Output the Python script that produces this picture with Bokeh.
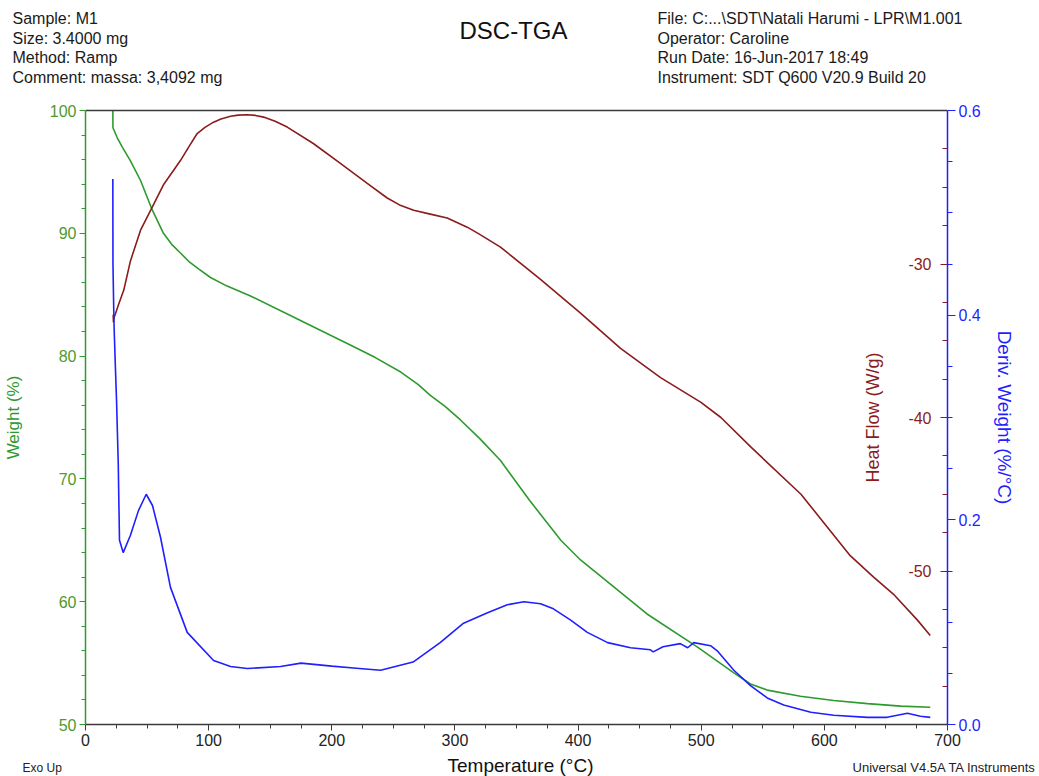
from bokeh.plotting import figure
from bokeh.layouts import column
from bokeh.models import Range1d, LinearAxis, FixedTicker, PrintfTickFormatter
from bokeh.core.properties import value
from bokeh.embed import file_html
from bokeh.resources import INLINE

# ---------------- data ----------------
x_ticks = [0, 100, 200, 300, 400, 500, 600, 700]
x_minor = [25, 50, 75, 125, 150, 175, 225, 250, 275, 325, 350, 375, 425, 450, 475,
           525, 550, 575, 625, 650, 675]
w_ticks = [50, 60, 70, 80, 90, 100]
w_minor = [52, 54, 56, 58, 62, 64, 66, 68, 72, 74, 76, 78, 82, 84, 86, 88, 92, 94, 96, 98]
hf_ticks = [-30, -40, -50]
hf_minor = [-22.5, -25, -27.5, -32.5, -35, -37.5, -42.5, -45, -47.5, -52.5, -55, -57.5]
dw_ticks = [0.0, 0.2, 0.4, 0.6]
dw_minor = [0.05, 0.1, 0.15, 0.25, 0.3, 0.35, 0.45, 0.5, 0.55]

weight_T = [22.2, 22.3, 25.7, 30, 36.5, 44.7, 54.2, 63.3, 70, 77.1, 84, 91.8, 101.5, 115,
            134, 174.6, 215, 235, 256, 270, 280, 292, 304.5, 320, 337, 361, 386, 402, 418,
            456, 497, 526.5, 540, 553.6, 580.6, 607.6, 635, 662, 686]
weight_pct = [100, 98.6, 97.8, 97.0, 95.9, 94.3, 91.9, 90.0, 89.1, 88.4, 87.7, 87.1, 86.4,
              85.7, 84.9, 82.9, 80.9, 79.9, 78.7, 77.7, 76.8, 75.9, 74.8, 73.3, 71.5, 68.2,
              65.0, 63.4, 62.1, 59.0, 56.3, 54.2, 53.3, 52.8, 52.3, 51.95, 51.7, 51.5, 51.4]

hf_T = [22.5, 22.7, 23, 27, 31.1, 36.5, 44.7, 54.2, 63.6, 77.1, 84, 90.7, 97, 104, 110,
        117.8, 124, 131.3, 138, 144.6, 154, 163.8, 185, 207, 228.8, 245, 255, 266.5, 280,
        293.7, 310, 320.8, 337, 369.5, 402, 434.5, 467, 499.5, 516, 540, 581, 621, 640,
        656, 675.6, 686]
hf_val = [-33.3, -33.8, -33.55, -32.6, -31.7, -29.8, -27.8, -26.3, -24.8, -23.26, -22.35,
          -21.5, -21.1, -20.76, -20.55, -20.37, -20.3, -20.28, -20.32, -20.43, -20.7,
          -21.08, -22.15, -23.45, -24.75, -25.7, -26.15, -26.5, -26.75, -27.0, -27.6,
          -28.1, -28.9, -31.0, -33.2, -35.5, -37.4, -39.0, -40.0, -41.9, -45.0, -49.0,
          -50.4, -51.5, -53.2, -54.2]

dw_T = [22.2, 22.3, 23.1, 24, 25.2, 26.6, 27.6, 30.6, 36.5, 43, 49.3, 54.4, 60.9, 69,
        82.6, 104, 117.8, 131.3, 158.4, 175, 200, 220, 239.6, 266, 288, 307, 326, 342.5,
        356, 369.5, 380, 394, 407.5, 424, 442.6, 458.8, 461, 469, 483, 489, 494, 507.6,
        513, 526.5, 540, 553.6, 567, 589, 607.6, 635, 651, 667.5, 678, 686]
dw_val = [0.533, 0.450, 0.393, 0.359, 0.317, 0.255, 0.180, 0.168, 0.185, 0.209, 0.225,
          0.214, 0.183, 0.134, 0.090, 0.0625, 0.0567, 0.0547, 0.0567, 0.060, 0.057, 0.055,
          0.053, 0.061, 0.080, 0.099, 0.109, 0.117, 0.120, 0.118, 0.113, 0.102, 0.090,
          0.080, 0.075, 0.073, 0.071, 0.076, 0.079, 0.075, 0.080, 0.077, 0.072, 0.053,
          0.038, 0.026, 0.019, 0.012, 0.009, 0.007, 0.007, 0.011, 0.008, 0.007]

header_left = ["Sample: M1", "Size:  3.4000 mg", "Method: Ramp", "Comment: massa: 3,4092 mg"]
header_right = ["File: C:...\\SDT\\Natali Harumi - LPR\\M1.001", "Operator: Caroline",
                "Run Date: 16-Jun-2017 18:49", "Instrument: SDT Q600 V20.9 Build 20"]
title_text = "DSC-TGA"
footer_left = "Exo Up"
footer_right = "Universal V4.5A TA Instruments"
x_label = "Temperature (°C)"

# ---------------- style ----------------
GREEN = "#2e9a2e"
GREEN_TXT = "#4f9a2c"
RED = "#8b1c1c"
BLUE = "#1f1fff"
DARK = "#3a3a3a"
FONT = "Liberation Sans"
W = 1039


def strip(height):
    f = figure(width=W, height=height, x_range=Range1d(0, W), y_range=Range1d(height, 0),
               min_border=0, frame_align=False, output_backend="svg", toolbar_location=None)
    f.axis.visible = False
    f.xgrid.visible = False
    f.ygrid.visible = False
    f.outline_line_color = None
    return f


# ---------------- header ----------------
head = strip(102)
rows = [18, 37.5, 57, 76.5]
head.text(x=[12] * len(header_left), y=rows, text=header_left, text_font=value(FONT),
          text_font_size="16px", text_color="#1a1a1a", text_baseline="middle")
head.text(x=[657] * len(header_right), y=rows, text=header_right, text_font=value(FONT),
          text_font_size="16px", text_color="#1a1a1a", text_baseline="middle")
head.text(x=[513], y=[30], text=[title_text], text_font=value(FONT), text_font_size="24px",
          text_color="#111111", text_align="center", text_baseline="middle")

# ---------------- main plot ----------------
p = figure(frame_width=862, frame_height=614,
           min_border_left=85, min_border_top=8, min_border_right=92, min_border_bottom=30,
           x_range=Range1d(0, 700), y_range=Range1d(50, 100), frame_align=False,
           output_backend="svg", toolbar_location=None)
p.extra_y_ranges = {"hf": Range1d(-60, -20), "dw": Range1d(0, 0.6)}
p.xgrid.visible = False
p.ygrid.visible = False
p.outline_line_color = None

xa = p.xaxis[0]
xa.ticker = FixedTicker(ticks=x_ticks, minor_ticks=x_minor)
xa.axis_line_color = DARK
xa.axis_line_width = 1.5
xa.major_tick_line_color = DARK
xa.minor_tick_line_color = DARK
xa.major_tick_in = 0
xa.major_tick_out = 6
xa.minor_tick_in = 0
xa.minor_tick_out = 4
xa.major_label_text_font = FONT
xa.major_label_text_font_size = "16px"
xa.major_label_text_color = "#222222"
xa.major_label_standoff = 3

ya = p.yaxis[0]
ya.ticker = FixedTicker(ticks=w_ticks, minor_ticks=w_minor)
ya.axis_label = "Weight (%)"
ya.axis_label_text_font = FONT
ya.axis_label_text_font_size = "17px"
ya.axis_label_text_font_style = "normal"
ya.axis_label_text_color = GREEN
ya.axis_label_standoff = 24
ya.axis_line_color = GREEN
ya.axis_line_width = 1.5
ya.major_tick_line_color = GREEN
ya.minor_tick_line_color = GREEN
ya.major_tick_in = 0
ya.major_tick_out = 6
ya.minor_tick_in = 0
ya.minor_tick_out = 4
ya.major_label_text_font = FONT
ya.major_label_text_font_size = "16px"
ya.major_label_text_color = GREEN_TXT
ya.major_label_standoff = 3

hfa = LinearAxis(y_range_name="hf", fixed_location=700,
                 ticker=FixedTicker(ticks=hf_ticks, minor_ticks=hf_minor),
                 formatter=PrintfTickFormatter(format="%d"),
                 axis_label="Heat Flow (W/g)")
hfa.axis_label_text_font = FONT
hfa.axis_label_text_font_size = "18px"
hfa.axis_label_text_font_style = "normal"
hfa.axis_label_text_color = RED
hfa.axis_label_standoff = 22
hfa.axis_line_color = None
hfa.major_tick_line_color = RED
hfa.minor_tick_line_color = RED
hfa.major_tick_in = 0
hfa.major_tick_out = 7
hfa.minor_tick_in = 0
hfa.minor_tick_out = 5
hfa.major_label_text_font = FONT
hfa.major_label_text_font_size = "16px"
hfa.major_label_text_color = RED
hfa.major_label_standoff = 9
p.add_layout(hfa, "left")

dwa = LinearAxis(y_range_name="dw",
                 ticker=FixedTicker(ticks=dw_ticks, minor_ticks=dw_minor),
                 formatter=PrintfTickFormatter(format="%.1f"),
                 axis_label="Deriv. Weight (%/°C)")
dwa.axis_label_text_font = FONT
dwa.axis_label_text_font_size = "19px"
dwa.axis_label_text_font_style = "normal"
dwa.axis_label_text_color = BLUE
dwa.axis_label_standoff = 10
dwa.axis_line_color = BLUE
dwa.axis_line_width = 1.5
dwa.major_tick_line_color = BLUE
dwa.minor_tick_line_color = BLUE
dwa.major_tick_in = 0
dwa.major_tick_out = 8
dwa.minor_tick_in = 0
dwa.minor_tick_out = 5
dwa.major_label_text_font = FONT
dwa.major_label_text_font_size = "16px"
dwa.major_label_text_color = BLUE
dwa.major_label_standoff = 3
p.add_layout(dwa, "right")

ta = LinearAxis(ticker=FixedTicker(ticks=[]))
ta.axis_line_color = DARK
ta.axis_line_width = 1.5
ta.major_tick_line_color = None
ta.minor_tick_line_color = None
ta.major_label_text_alpha = 0
p.add_layout(ta, "above")

p.line(weight_T, weight_pct, color=GREEN, line_width=1.6)
p.line(hf_T, hf_val, y_range_name="hf", color=RED, line_width=1.6)
p.line(dw_T, dw_val, y_range_name="dw", color=BLUE, line_width=1.6)

# ---------------- footer ----------------
foot = strip(22)
foot.text(x=[22], y=[13], text=[footer_left], text_font=value(FONT), text_font_size="12px",
          text_color="#222222", text_baseline="middle")
foot.text(x=[520], y=[11], text=[x_label], text_font=value(FONT), text_font_size="19px",
          text_color="#111111", text_align="center", text_baseline="middle")
foot.text(x=[1036], y=[13], text=[footer_right], text_font=value(FONT), text_font_size="13px",
          text_color="#222222", text_align="right", text_baseline="middle")

layout = column(head, p, foot, spacing=0)
open("out.html", "w").write(file_html(layout, INLINE))
